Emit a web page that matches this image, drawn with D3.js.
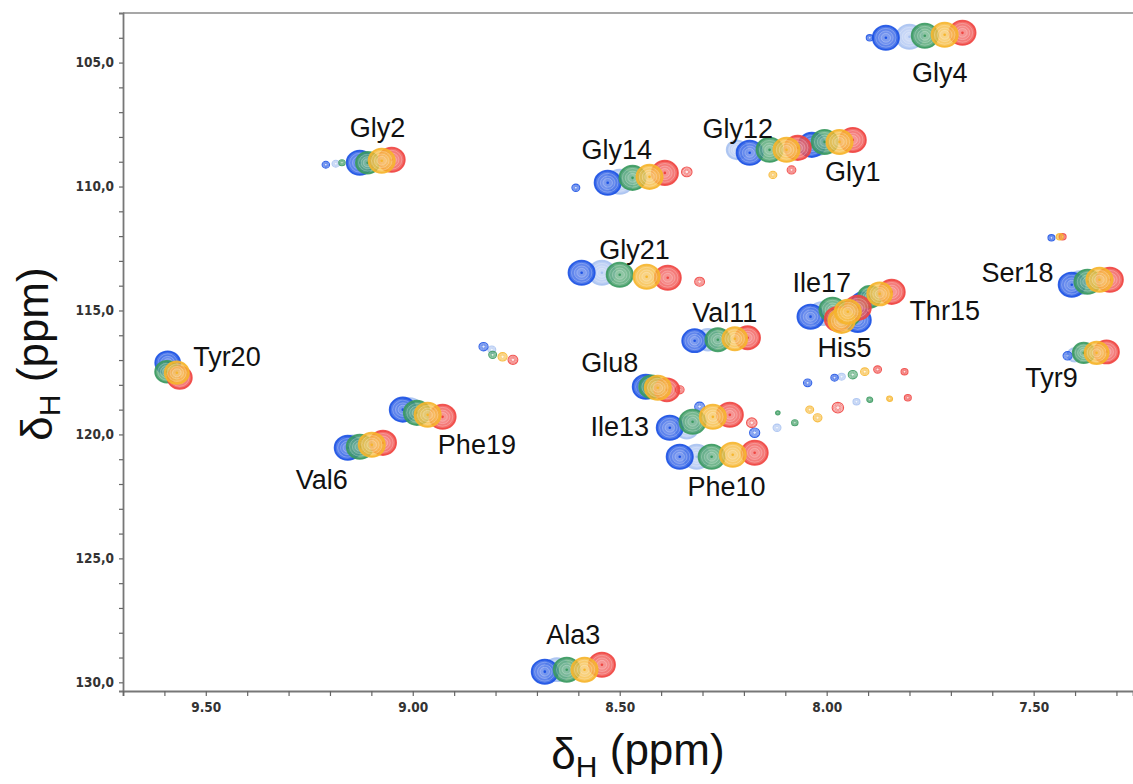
<!DOCTYPE html>
<html>
<head>
<meta charset="utf-8">
<script src="https://cdn.jsdelivr.net/npm/d3@7"></script>
<style>
  html, body { margin: 0; padding: 0; background: #fff; }
  svg { display: block; }
</style>
</head>
<body>
<svg id="chart" width="1133" height="784"></svg>
<script>
// ---------------- DATA ----------------
const residues = ["Gly1","Gly2","Ala3","Gly4","His5","Val6","Glu8","Tyr9","Phe10","Val11",
                  "Gly12","Ile13","Gly14","Thr15","Ile17","Ser18","Phe19","Tyr20","Gly21"];

const seriesNames = ["step1","step2","step3","step4","step5"];
const seriesColors = ["#1c52e4","#a9c2f1","#3b9a60","#f6b52c","#ef4541"];

// 1H shifts (ppm) per series, in residue order
const hStep1 = [8.036,9.128,8.681,7.857,7.925,9.157,8.437,7.418,8.355,8.319,8.186,8.379,8.529,7.915,8.039,7.408,9.024,9.592,8.592];
const hStep2 = [8.022,9.118,8.652,7.800,7.940,9.145,8.430,7.401,8.314,8.287,8.217,8.338,8.500,7.906,8.012,7.389,9.007,9.589,8.543];
const hStep3 = [8.005,9.109,8.628,7.763,7.949,9.128,8.423,7.379,8.278,8.263,8.138,8.324,8.469,7.896,7.986,7.370,8.990,9.594,8.500];
const hStep4 = [7.969,9.075,8.585,7.715,7.964,9.099,8.408,7.348,8.227,8.222,8.097,8.275,8.428,7.872,7.949,7.341,8.964,9.570,8.435];
const hStep5 = [7.937,9.051,8.543,7.672,7.973,9.072,8.386,7.324,8.174,8.191,8.070,8.234,8.391,7.843,7.925,7.316,8.928,9.563,8.384];

// 15N shifts (ppm) per series, in residue order
const nStep1 = [108.32,109.04,129.57,104.00,115.38,120.54,118.08,116.83,120.90,116.22,108.64,119.73,109.85,114.65,115.25,113.96,119.00,117.11,113.48];
const nStep2 = [108.30,109.04,129.49,103.96,115.30,120.50,118.08,116.79,120.90,116.18,108.52,119.73,109.81,114.57,115.13,113.88,119.00,117.23,113.48];
const nStep3 = [108.20,109.04,129.49,103.92,115.13,120.50,118.08,116.71,120.90,116.18,108.52,119.49,109.65,114.45,114.97,113.84,119.13,117.47,113.56];
const nStep4 = [108.20,108.96,129.49,103.88,115.42,120.42,118.12,116.71,120.82,116.14,108.52,119.29,109.61,114.33,115.05,113.76,119.21,117.51,113.64];
const nStep5 = [108.12,108.92,129.29,103.80,115.34,120.34,118.20,116.67,120.74,116.10,108.44,119.21,109.45,114.25,114.89,113.76,119.29,117.71,113.68];

// relative peak intensities per series, in residue order
const iStep1 = [1,1,1,1,1,1,1,0.12,1,0.9,1,1,1,0.6,1,1,1,0.9,1];
const iStep2 = [0.8,0.5,0.9,1,0.9,0.9,0.9,0.3,1,0.8,0.6,0.8,1,0.6,0.9,0.9,0.9,0.8,1];
const iStep3 = [1,0.8,1,1,1,1,0.9,0.7,1,0.9,1,1,1,0.8,1,1,1,0.8,1];
const iStep4 = [1,1,1,1,1,1,1,0.85,1,0.9,1,1,1,0.9,1,1,1,0.85,1];
const iStep5 = [1,1,1,1,1,1,0.9,0.9,1,0.9,1,1,1,1,1,1,1,0.85,1];

// weak extra peaks: [series index, 1H ppm, 15N ppm, intensity]
const minorPeaks = [
  [0,8.829,116.46,0.12],[1,8.809,116.58,0.09],[2,8.807,116.79,0.09],[3,8.783,116.87,0.12],[4,8.758,116.99,0.14],
  [0,9.210,109.12,0.08],[1,9.186,109.08,0.08],[2,9.171,109.04,0.06],
  [0,8.606,110.05,0.09],[4,8.338,109.41,0.16],
  [0,7.896,104.00,0.07],
  [3,8.130,109.53,0.09],[4,8.085,109.33,0.11],
  [4,8.307,113.84,0.14],
  [0,7.457,112.07,0.07],[3,7.437,112.03,0.07],[4,7.430,112.03,0.07],
  [4,8.355,118.20,0.11],
  [0,8.307,118.88,0.14],[4,8.181,119.53,0.16],[0,8.174,119.93,0.15],
  [0,8.046,117.92,0.10],[0,7.981,117.71,0.08],[1,7.964,117.67,0.08],[2,7.937,117.59,0.12],[3,7.908,117.47,0.10],[4,7.877,117.38,0.09],[4,7.812,117.47,0.07],
  [2,8.118,119.13,0.03],[1,8.120,119.73,0.09],[2,8.077,119.53,0.06],[3,8.041,119.00,0.09],[3,8.022,119.33,0.11],
  [4,7.973,118.92,0.19],[1,7.928,118.68,0.07],[2,7.896,118.60,0.05],[3,7.848,118.56,0.05],[4,7.804,118.52,0.07]
];

// residue label anchor points (1H ppm, 15N ppm)
const labelH = [7.937,9.085,8.612,7.727,7.957,9.220,8.524,7.457,8.242,8.246,8.215,8.500,8.507,7.715,8.012,7.539,8.845,9.449,8.464];
const labelN = [109.41,107.63,128.08,105.42,116.50,121.83,117.11,117.71,122.11,115.09,107.67,119.69,108.52,115.01,113.88,113.48,120.42,116.87,112.55];

// axis ticks
const xMajorTicks = [9.5, 9.0, 8.5, 8.0, 7.5];
const xMinorTicks = d3.range(73, 98).map(d => d / 10);
const yMajorTicks = [105, 110, 115, 120, 125, 130];
const yMinorTicks = d3.range(104, 131);

// ---------------- CHART ----------------
(function () {
const svg = d3.select("#chart");
const mLeft = 123, mTop = 13, mRight = 1133, mBottom = 691;

const x = d3.scaleLinear().domain([9.70, 7.26]).range([mLeft, mRight]);
const y = d3.scaleLinear().domain([103.0, 130.35]).range([mTop, mBottom]);
const r = d3.scaleSqrt().domain([0, 1]).range([0, 12.5]);

const hAll = [hStep1, hStep2, hStep3, hStep4, hStep5];
const nAll = [nStep1, nStep2, nStep3, nStep4, nStep5];
const iAll = [iStep1, iStep2, iStep3, iStep4, iStep5];

let peaks = [];
seriesNames.forEach((s, si) => {
  residues.forEach((res, ri) => {
    peaks.push({s: si, h: hAll[si][ri], n: nAll[si][ri], i: iAll[si][ri]});
  });
});
minorPeaks.forEach(p => peaks.push({s: p[0], h: p[1], n: p[2], i: p[3]}));

// draw order: light blue, blue, green, red, yellow
const drawRank = [1, 0, 2, 4, 3];
peaks.sort((a, b) => drawRank[a.s] - drawRank[b.s]);

// top frame line
svg.append("line").attr("x1", mLeft).attr("x2", mRight).attr("y1", mTop).attr("y2", mTop)
  .attr("stroke", "#8a8a8a").attr("stroke-width", 1.5);

// peaks
const gPeaks = svg.append("g");
const pg = gPeaks.selectAll("g.peak").data(peaks).join("g")
  .attr("class", "peak")
  .attr("transform", d => `translate(${x(d.h)},${y(d.n)})`);

const weak = d => d.i < 0.2;
// outer contour (body)
pg.append("ellipse")
  .attr("rx", d => r(d.i) * 1.05)
  .attr("ry", d => r(d.i) * 0.97)
  .attr("fill", d => seriesColors[d.s])
  .attr("fill-opacity", d => weak(d) ? 0.12 : 0.78)
  .attr("stroke", d => seriesColors[d.s])
  .attr("stroke-opacity", 0.9)
  .attr("stroke-width", d => weak(d) ? 1.1 : 1.8);
// inner contours
[0.78, 0.56, 0.36].forEach(k => {
  pg.append("ellipse")
    .attr("rx", d => r(d.i) * k * 1.05)
    .attr("ry", d => r(d.i) * k * 0.97)
    .attr("fill", d => weak(d) ? "none" : "#ffffff")
    .attr("fill-opacity", 0.1)
    .attr("stroke", d => weak(d) ? seriesColors[d.s] : "#ffffff")
    .attr("stroke-opacity", d => weak(d) ? 0.6 : 0.28)
    .attr("stroke-width", 0.9);
});
// small dark centre
pg.filter(d => !weak(d)).append("circle")
  .attr("r", 1.3)
  .attr("fill", d => seriesColors[d.s]);

// residue labels
svg.append("g").selectAll("text").data(residues).join("text")
  .attr("x", (d, i) => x(labelH[i]))
  .attr("y", (d, i) => y(labelN[i]))
  .attr("dy", "0.35em")
  .attr("text-anchor", "middle")
  .attr("font-family", "Liberation Sans, Arial, sans-serif")
  .attr("font-size", 27)
  .attr("fill", "#111")
  .text(d => d);

// axes
const tickFont = "DejaVu Sans Condensed, DejaVu Sans, sans-serif";
const yAxis = d3.axisLeft(y).tickValues(yMinorTicks).tickSize(4).tickPadding(5)
  .tickFormat(v => yMajorTicks.includes(v) ? d3.format(".1f")(v).replace(".", ",") : "");
const gy = svg.append("g").attr("transform", `translate(${mLeft},0)`).call(yAxis);

const xAxis = d3.axisBottom(x).tickValues(xMinorTicks).tickSize(5).tickPadding(6)
  .tickFormat(v => xMajorTicks.some(m => Math.abs(m - v) < 1e-6) ? d3.format(".2f")(v) : "");
const gx = svg.append("g").attr("transform", `translate(0,${mBottom})`).call(xAxis);

[gx, gy].forEach(g => {
  g.select(".domain").attr("stroke", "#777").attr("stroke-width", 1.8);
  g.selectAll(".tick line").attr("stroke", "#666").attr("stroke-width", 1.2);
  g.selectAll(".tick text").attr("font-family", tickFont).attr("font-size", 13.5)
    .attr("font-weight", "bold").attr("fill", "#333");
});

// axis titles
function axisTitle(g) {
  g.append("tspan").text("δ");
  g.append("tspan").attr("font-size", 30).attr("dy", "0.28em").text("H");
  g.append("tspan").attr("dy", "-0.28em").text(" (ppm)");
}
const tx = svg.append("text")
  .attr("x", 638).attr("y", 769)
  .attr("text-anchor", "middle")
  .attr("font-family", "Liberation Sans, Arial, sans-serif")
  .attr("font-size", 44).attr("fill", "#111");
axisTitle(tx);

const ty = svg.append("text")
  .attr("transform", "translate(52,354) rotate(-90)")
  .attr("text-anchor", "middle")
  .attr("font-family", "Liberation Sans, Arial, sans-serif")
  .attr("font-size", 44).attr("fill", "#111");
axisTitle(ty);
})();
</script>
</body>
</html>
